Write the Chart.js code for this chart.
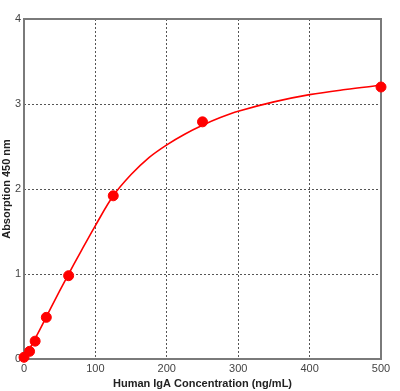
<!DOCTYPE html>
<html><head><meta charset="utf-8">
<script src="https://cdn.jsdelivr.net/npm/chart.js@4/dist/chart.umd.min.js"></script>
<style>html,body{margin:0;padding:0;background:#fff}#wrap{width:400px;height:391px}</style>
</head><body><div id="wrap"><canvas id="c" width="400" height="391"></canvas></div>
<script>
const stdConc = [0, 7.8, 15.6, 31.25, 62.5, 125, 250, 500];
const stdOD = [0.02, 0.09, 0.21, 0.49, 0.98, 1.92, 2.79, 3.20];
const curveConc = [0, 20, 40, 60, 80, 100, 125, 150, 175, 200, 225, 250, 275, 300, 350, 400, 450, 500];
const curveOD = [0.0, 0.31, 0.64, 0.96, 1.27, 1.57, 1.92, 2.17, 2.37, 2.52, 2.645, 2.75, 2.84, 2.915, 3.025, 3.11, 3.17, 3.22];
const xTicks = [0, 100, 200, 300, 400, 500];
const yTicks = [0, 1, 2, 3, 4];

const frame = {
  id: 'frame',
  beforeDatasetsDraw(chart) {
    const a = chart.chartArea, ctx = chart.ctx;
    ctx.save();
    ctx.strokeStyle = '#7a7a7a';
    ctx.lineWidth = 2;
    ctx.strokeRect(a.left, a.top, a.right - a.left, a.bottom - a.top);
    ctx.restore();
  }
};

new Chart(document.getElementById('c'), {
  type: 'scatter',
  data: {
    datasets: [
      { data: curveConc.map((x, i) => ({x, y: curveOD[i]})), showLine: true, borderColor: '#ff0000', borderWidth: 1.6, pointRadius: 0, tension: 0.35, fill: false },
      { data: stdConc.map((x, i) => ({x, y: stdOD[i]})), showLine: false, clip: false, backgroundColor: '#ff0000', borderColor: '#ff0000', pointRadius: 5, pointHoverRadius: 5 }
    ]
  },
  options: {
    responsive: false, animation: false, maintainAspectRatio: false,
    layout: { padding: { top: 19, right: 19, left: 0, bottom: 0 } },
    plugins: { legend: { display: false }, tooltip: { enabled: false } },
    scales: {
      x: {
        type: 'linear', min: 0, max: 500,
        afterBuildTicks(s) { s.ticks = xTicks.map(v => ({value: v})); },
        afterFit(s) { s.height = 32; },
        grid: { color: '#555', lineWidth: 1, drawTicks: false },
        border: { display: false, dash: [2, 2] },
        ticks: { padding: 3, color: '#444', font: { family: 'Liberation Sans', size: 11 }, maxRotation: 0 },
        title: { display: true, text: 'Human IgA Concentration (ng/mL)', color: '#222', font: { family: 'Liberation Sans', size: 11, weight: 'bold' }, padding: { top: 0, bottom: 0 } }
      },
      y: {
        type: 'linear', min: 0, max: 4,
        afterBuildTicks(s) { s.ticks = yTicks.map(v => ({value: v})); },
        afterFit(s) { s.width = 24; },
        grid: { color: '#555', lineWidth: 1, drawTicks: false },
        border: { display: false, dash: [2, 2] },
        ticks: { padding: 3, color: '#444', font: { family: 'Liberation Sans', size: 11 } },
        title: { display: true, text: 'Absorption 450 nm', color: '#222', font: { family: 'Liberation Sans', size: 11, weight: 'bold' }, padding: { top: 0, bottom: 0 } }
      }
    }
  },
  plugins: [frame]
});
</script></body></html>
